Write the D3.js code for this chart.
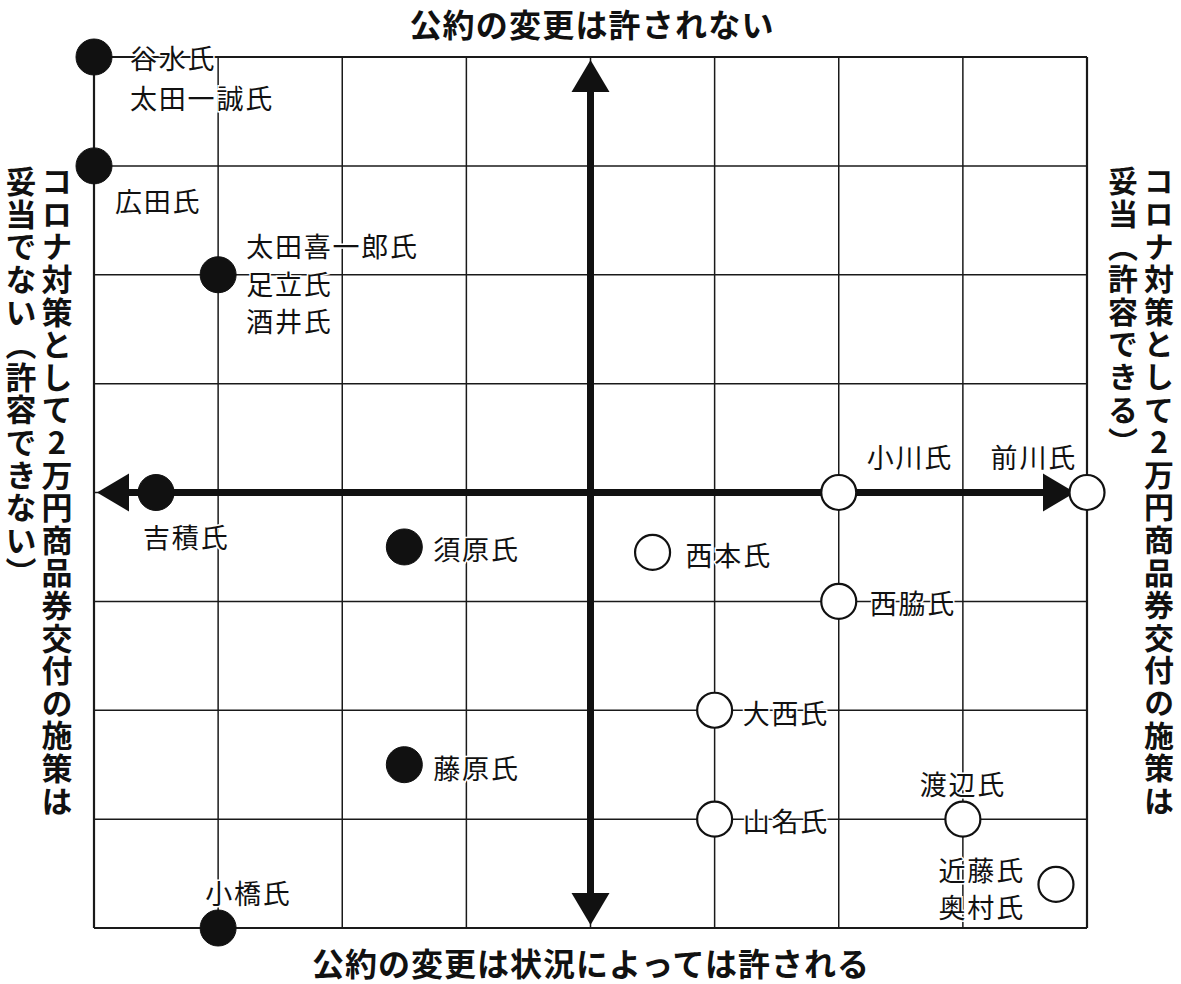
<!DOCTYPE html>
<html><head><meta charset="utf-8">
<script src="https://cdn.jsdelivr.net/npm/d3@7"></script>
<style>
html,body{margin:0;padding:0;background:#fff;}
svg text{font-family:"Noto Sans CJK JP","Noto Sans",sans-serif;}
</style></head>
<body>
<svg id="chart" width="1181" height="984"></svg>
<script>
// ---- data ----
const names   = ["谷水氏","太田一誠氏","広田氏","太田喜一郎氏","足立氏","酒井氏","吉積氏","須原氏","藤原氏","小橋氏","西本氏","小川氏","前川氏","西脇氏","大西氏","山名氏","渡辺氏","近藤氏","奥村氏"];
const xValues = [-4,-4,-4,-3,-3,-3,-3.5,-1.5,-1.5,-3,0.5,2,4,2,1,1,3,3.75,3.75];
const yValues = [4,4,3,2,2,2,0,-0.5,-2.5,-4,-0.55,0,0,-1,-2,-3,-3,-3.6,-3.6];
const approve = [false,false,false,false,false,false,false,false,false,false,true,true,true,true,true,true,true,true,true];
const gridTicks = [-4,-3,-2,-1,0,1,2,3,4];
const titleTop    = "公約の変更は許されない";
const titleBottom = "公約の変更は状況によっては許される";
const leftLines   = ["コロナ対策として2万円商品券交付の施策は","妥当でない（許容できない）"];
const rightLines  = ["コロナ対策として2万円商品券交付の施策は","妥当（許容できる）"];
// label placement (offset px from point, anchor)
const labelPlace = {
  "谷水氏":[36,0,"start"],"太田一誠氏":[36,40,"start"],"広田氏":[21,34,"start"],
  "太田喜一郎氏":[28,-30,"start"],"足立氏":[28,8,"start"],"酒井氏":[28,45,"start"],
  "吉積氏":[-13,43,"start"],"須原氏":[29,1,"start"],"藤原氏":[29,2,"start"],
  "小橋氏":[-13,-36,"start"],"西本氏":[33,2,"start"],"小川氏":[28,-37,"start"],
  "前川氏":[-10,-37,"end"],"西脇氏":[31,1,"start"],"大西氏":[28,2,"start"],
  "山名氏":[28,1,"start"],"渡辺氏":[0,-36,"middle"],"近藤氏":[-31,-15,"end"],"奥村氏":[-31,22,"end"]
};

// ---- layout ----
const svg = d3.select("#chart");
const x = d3.scaleLinear().domain([-4,4]).range([94,1087]);
const y = d3.scaleLinear().domain([-4,4]).range([928,57]);
const ink = "#1a1a1a";

// grid
const g = svg.append("g");
g.selectAll("line.v").data(gridTicks).join("line")
  .attr("x1",d=>x(d)).attr("x2",d=>x(d)).attr("y1",y(4)).attr("y2",y(-4))
  .attr("stroke",ink).attr("stroke-width",d=>Math.abs(d)===4?2.2:1.5);
g.selectAll("line.h").data(gridTicks).join("line")
  .attr("y1",d=>y(d)).attr("y2",d=>y(d)).attr("x1",x(-4)).attr("x2",x(4))
  .attr("stroke",ink).attr("stroke-width",d=>Math.abs(d)===4?2.2:1.5);

// axes arrows
const axW = 7;
svg.append("line").attr("x1",x(-4)+30).attr("x2",x(4)-30).attr("y1",y(0)).attr("y2",y(0))
  .attr("stroke","#111").attr("stroke-width",axW);
svg.append("line").attr("y1",y(4)+30).attr("y2",y(-4)-30).attr("x1",x(0)).attr("x2",x(0))
  .attr("stroke","#111").attr("stroke-width",axW);
const ah = 19, al = 32;
const arrows = [
  [[x(-4)+3,y(0)],[x(-4)+3+al,y(0)-ah],[x(-4)+3+al,y(0)+ah]],
  [[x(4)-12,y(0)],[x(4)-12-al,y(0)-ah],[x(4)-12-al,y(0)+ah]],
  [[x(0),y(4)+3],[x(0)-ah,y(4)+3+al],[x(0)+ah,y(4)+3+al]],
  [[x(0),y(-4)-3],[x(0)-ah,y(-4)-3-al],[x(0)+ah,y(-4)-3-al]]
];
svg.selectAll("path.arrow").data(arrows).join("path")
  .attr("d",d=>"M"+d.map(p=>p.join(",")).join("L")+"Z").attr("fill","#111");

// points (people sharing a position share one marker and one label block)
const pts = names.map((n,i)=>({n,x:xValues[i],y:yValues[i],ok:approve[i]}));
const groups = [];
pts.forEach(p=>{
  let gr = groups.find(q=>q.x===p.x&&q.y===p.y);
  if(!gr){ gr = {x:p.x,y:p.y,ok:p.ok,members:[]}; groups.push(gr); }
  gr.members.push(p.n);
});
svg.selectAll("circle.pt").data(groups).join("circle")
  .attr("cx",d=>x(d.x)).attr("cy",d=>y(d.y)).attr("r",d=>d.ok?17.5:18)
  .attr("fill",d=>d.ok?"#fff":"#111").attr("stroke","#111").attr("stroke-width",d=>d.ok?2.2:1);

// labels
const lbl = svg.selectAll("text.lbl").data(groups).join("text")
  .attr("dominant-baseline","central")
  .attr("font-size",27).attr("letter-spacing",1.8).attr("fill","#111")
  .attr("stroke","#fff").attr("stroke-width",3).attr("paint-order","stroke")
  .attr("text-anchor",d=>labelPlace[d.members[0]][2]);
lbl.selectAll("tspan").data(d=>d.members.map(n=>({n,px:x(d.x),py:y(d.y)}))).join("tspan")
  .attr("x",d=>d.px+labelPlace[d.n][0]).attr("y",d=>d.py+labelPlace[d.n][1])
  .text(d=>d.n);

// titles
svg.append("text").attr("x",592).attr("y",23).attr("text-anchor","middle").attr("dominant-baseline","central")
  .attr("font-size",32).attr("font-weight",600).attr("letter-spacing",1.2).attr("fill","#111").text(titleTop);
svg.append("text").attr("x",591).attr("y",962).attr("text-anchor","middle").attr("dominant-baseline","central")
  .attr("font-size",32).attr("font-weight",600).attr("letter-spacing",1).attr("fill","#111").text(titleBottom);

function vtext(cx, top, s, fs){
  svg.append("text").attr("x",cx).attr("y",top)
    .attr("style","writing-mode:vertical-rl;text-orientation:upright;")
    .attr("font-size",fs).attr("font-weight",600).attr("letter-spacing",32.6-fs).attr("fill","#111").text(s);
}
vtext(57,166,leftLines[0],31);
vtext(21,166,leftLines[1],31);
vtext(1159,166,rightLines[0],30);
vtext(1123,166,rightLines[1],30);
</script>
</body></html>
